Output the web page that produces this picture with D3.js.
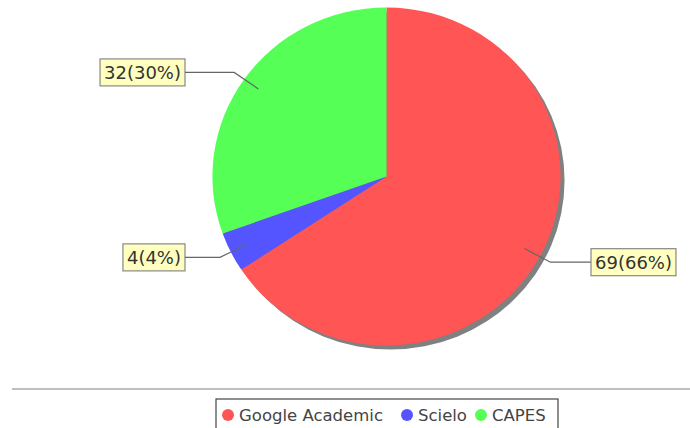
<!DOCTYPE html>
<html>
<head>
<meta charset="utf-8">
<script src="https://cdn.jsdelivr.net/npm/d3@7"></script>
<style>
  body { margin: 0; background: #fff; }
  text { font-family: "DejaVu Sans", Verdana, sans-serif; }
</style>
</head>
<body>
<div id="chart"></div>
<script>
// data
var categories = ["Google Academic", "Scielo", "CAPES"];
var values = [69, 4, 32];
var labels = ["69(66%)", "4(4%)", "32(30%)"];
var colors = ["#ff5555", "#5555ff", "#55ff55"];

var W = 690, H = 428;
var cx = 386.5, cy = 176.5, R = 169;

var svg = d3.select("#chart").append("svg").attr("width", W).attr("height", H);

var pie = d3.pie().sort(null).value(function(d) { return d; });
var arcs = pie(values);
var arc = d3.arc().innerRadius(0).outerRadius(R);

// shadow
svg.append("g")
  .attr("transform", "translate(" + (cx + 4) + "," + (cy + 4) + ") scale(1.03,1)")
  .append("circle").attr("r", R).attr("fill", "#808080");

var g = svg.append("g").attr("transform", "translate(" + cx + "," + cy + ") scale(1.03,1)");
g.selectAll("path").data(arcs).enter().append("path")
  .attr("d", arc)
  .attr("fill", function(d, i) { return colors[i]; });

// labels
arcs.forEach(function(d, i) {
  var a = (d.startAngle + d.endAngle) / 2;
  var ax = cx + 1.03 * R * 0.9 * Math.sin(a), ay = cy - R * 0.9 * Math.cos(a);
  var ex = cx + 1.03 * R * 1.07 * Math.sin(a), ey = cy - R * 1.07 * Math.cos(a);
  var right = Math.sin(a) > 0;
  var bx = right ? 591 : 185;
  svg.append("polyline")
    .attr("points", [[ax, ay], [ex, ey], [bx, ey]].map(function(p) { return p.join(","); }).join(" "))
    .attr("fill", "none").attr("stroke", "#666").attr("stroke-width", 1.2);
  var t = svg.append("text")
    .attr("y", ey + 6.5)
    .attr("font-size", 18)
    .attr("fill", "#333")
    .text(labels[i]);
  var tw = t.node().getComputedTextLength();
  var bw = tw + 8;
  var x0 = right ? bx : bx - bw;
  t.attr("x", x0 + 4);
  svg.insert("rect", "text")
    .attr("x", x0).attr("y", ey - 13.5)
    .attr("width", bw).attr("height", 27)
    .attr("fill", "#ffffc0").attr("stroke", "#888").attr("stroke-width", 1.2);
});

// separator
svg.append("line")
  .attr("x1", 12).attr("x2", W).attr("y1", 389).attr("y2", 389)
  .attr("stroke", "#aaa").attr("stroke-width", 1.5);

// legend
var lg = svg.append("g");
lg.append("rect").attr("x", 216).attr("y", 399).attr("width", 342).attr("height", 40)
  .attr("fill", "#fff").attr("stroke", "#444").attr("stroke-width", 1.2);
var lx = [228, 407, 481];
categories.forEach(function(c, i) {
  lg.append("circle").attr("cx", lx[i]).attr("cy", 415).attr("r", 6).attr("fill", colors[i]);
  lg.append("text").attr("x", lx[i] + 11).attr("y", 421)
    .attr("font-size", 16.5).attr("fill", "#444").text(c);
});
</script>
</body>
</html>
